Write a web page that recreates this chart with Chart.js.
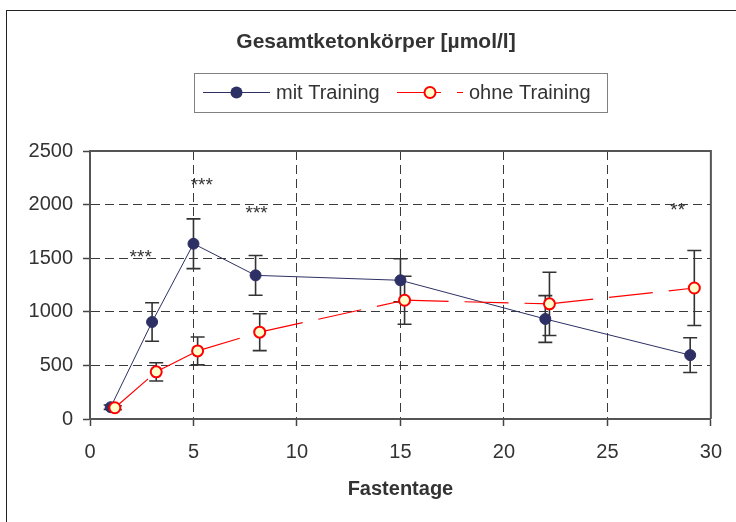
<!DOCTYPE html>
<html><head><meta charset="utf-8">
<script src="https://cdn.jsdelivr.net/npm/chart.js@4/dist/chart.umd.min.js"></script>
<style>html,body{margin:0;padding:0;background:#fff;}#wrap{width:736px;height:522px;position:relative}</style>
</head><body><div id="wrap"><canvas id="c" width="736" height="522"></canvas></div>
<script>
const chartTitle = 'Gesamtketonkörper [µmol/l]';
const xAxisTitle = 'Fastentage';
const seriesNames = ['mit Training', 'ohne Training'];
const daysMit = [1, 3, 5, 8, 15, 22, 29];
const daysOhne = [1.2, 3.2, 5.2, 8.2, 15.2, 22.2, 29.2];
const valuesMit = [110, 905, 1635, 1340, 1294, 933, 596];
const errMit = [20, 180, 232, 185, 201, 218, 162];
const valuesOhne = [105, 440, 635, 810, 1108, 1074, 1222];
const errOhne = [18, 85, 130, 172, 224, 295, 350];
const xTicks = [0, 5, 10, 15, 20, 25, 30];
const yTicks = [0, 500, 1000, 1500, 2000, 2500];
const starLabels = ['***', '***', '***', '**'];
const starX = [2.45, 5.4, 8.05, 28.4];
const starY = [1560, 2230, 1965, 1995];

const FONT = "'Liberation Sans', Arial, sans-serif";
const NAVY = '#2D3064';
const RED = '#FF0000';
const TEXT = '#333333';
const GRID = '#3a3a3a';

const errData = [errMit, errOhne];
const valData = [valuesMit, valuesOhne];
const dayData = [daysMit, daysOhne];

const decor = {
  id: 'decor',
  beforeDraw(chart) {
    const c = chart.ctx;
    c.save();
    c.fillStyle = '#fff';
    c.fillRect(0, 0, chart.width, chart.height);
    c.strokeStyle = '#222';
    c.lineWidth = 1;
    c.strokeRect(6.5, 10.5, 900, 700);
    c.restore();
  },
  beforeDatasetsDraw(chart) {
    const c = chart.ctx, xs = chart.scales.x, ys = chart.scales.y;
    c.save();
    c.strokeStyle = '#333';
    c.lineWidth = 1.6;
    for (let s = 0; s < 2; s++) {
      for (let j = 0; j < dayData[s].length; j++) {
        const x = xs.getPixelForValue(dayData[s][j]);
        const yt = ys.getPixelForValue(valData[s][j] + errData[s][j]);
        const yb = ys.getPixelForValue(valData[s][j] - errData[s][j]);
        c.beginPath();
        c.moveTo(x, yt); c.lineTo(x, yb);
        c.moveTo(x - 7, yt); c.lineTo(x + 7, yt);
        c.moveTo(x - 7, yb); c.lineTo(x + 7, yb);
        c.stroke();
      }
    }
    c.restore();
  },
  afterDatasetsDraw(chart) {
    const c = chart.ctx, xs = chart.scales.x, ys = chart.scales.y;
    c.save();
    c.fillStyle = TEXT;
    c.font = '19px ' + FONT;
    c.textAlign = 'center';
    c.textBaseline = 'alphabetic';
    for (let i = 0; i < starLabels.length; i++) {
      c.fillText(starLabels[i], xs.getPixelForValue(starX[i]), ys.getPixelForValue(starY[i]) + 0.57 * 19);
    }
    c.restore();
  },
  afterDraw(chart) {
    const c = chart.ctx, a = chart.chartArea;
    c.save();
    // plot frame top/right (solid)
    c.strokeStyle = '#555';
    c.lineWidth = 2;
    c.beginPath();
    c.moveTo(a.left, a.top); c.lineTo(a.right, a.top); c.lineTo(a.right, a.bottom);
    c.stroke();
    // title
    c.fillStyle = TEXT;
    c.textAlign = 'center';
    c.textBaseline = 'alphabetic';
    c.font = 'bold 21px ' + FONT;
    c.fillText(chartTitle, 376, 48);
    // x axis title
    c.font = 'bold 20px ' + FONT;
    c.fillText(xAxisTitle, (a.left + a.right) / 2, 495);
    // legend
    c.strokeStyle = '#808080';
    c.lineWidth = 1;
    c.strokeRect(194.5, 73.5, 413, 39);
    const ly = 92.5;
    c.strokeStyle = NAVY; c.lineWidth = 1;
    c.beginPath(); c.moveTo(203, ly); c.lineTo(270, ly); c.stroke();
    c.fillStyle = NAVY;
    c.beginPath(); c.arc(236.5, ly, 6, 0, Math.PI * 2); c.fill();
    c.strokeStyle = RED; c.lineWidth = 1.2;
    c.setLineDash([44, 16]);
    c.beginPath(); c.moveTo(397, ly); c.lineTo(463, ly); c.stroke();
    c.setLineDash([]);
    c.fillStyle = '#FFFFCC'; c.lineWidth = 2;
    c.beginPath(); c.arc(430, ly, 5.5, 0, Math.PI * 2); c.fill(); c.stroke();
    c.fillStyle = TEXT;
    c.textAlign = 'left';
    c.font = '20px ' + FONT;
    c.fillText(chart.data.datasets[0].label, 276, 99);
    c.fillText(chart.data.datasets[1].label, 469, 99);
    c.restore();
  }
};

new Chart(document.getElementById('c'), {
  type: 'scatter',
  data: {
    datasets: [
      {
        label: seriesNames[0],
        data: daysMit.map((d, i) => ({x: d, y: valuesMit[i]})),
        showLine: true,
        borderColor: NAVY,
        borderWidth: 1,
        backgroundColor: NAVY,
        pointBackgroundColor: NAVY,
        pointBorderColor: NAVY,
        pointBorderWidth: 1,
        pointRadius: 5.5,
        order: 1
      },
      {
        label: seriesNames[1],
        data: daysOhne.map((d, i) => ({x: d, y: valuesOhne[i]})),
        showLine: true,
        borderColor: RED,
        borderWidth: 1.2,
        borderDash: [44, 16],
        segment: {
          // restart the dash pattern on each segment (separate strokes)
          borderDashOffset: ctx => (ctx.p0DataIndex % 2) * 0.0001
        },
        backgroundColor: '#FFFFCC',
        pointBackgroundColor: '#FFFFCC',
        pointBorderColor: RED,
        pointBorderWidth: 2,
        pointRadius: 5.5,
        order: 0
      }
    ]
  },
  options: {
    responsive: false,
    animation: false,
    events: [],
    layout: {padding: {left: 0, right: 22, top: 151, bottom: 0}},
    plugins: {legend: {display: false}, tooltip: {enabled: false}, title: {display: false}},
    scales: {
      x: {
        type: 'linear', min: 0, max: 30,
        afterBuildTicks: s => { s.ticks = xTicks.map(v => ({value: v})); },
        afterFit: s => { s.height = 103; },
        grid: {color: GRID, lineWidth: 1, tickLength: 7, tickColor: '#444', tickWidth: 1.5, tickBorderDash: []},
        border: {display: true, color: '#555', width: 2, dash: [9, 5]},
        ticks: {font: {family: FONT, size: 20}, color: TEXT, padding: 14, maxRotation: 0, callback: v => String(v)}
      },
      y: {
        type: 'linear', min: 0, max: 2500,
        afterBuildTicks: s => { s.ticks = yTicks.map(v => ({value: v})); },
        afterFit: s => { s.width = 90; },
        grid: {color: GRID, lineWidth: 1, tickLength: 7, tickColor: '#444', tickWidth: 1.5, tickBorderDash: []},
        border: {display: true, color: '#555', width: 2, dash: [9, 5]},
        ticks: {font: {family: FONT, size: 20}, color: TEXT, padding: 10, callback: v => String(v)}
      }
    }
  },
  plugins: [decor]
});
</script></body></html>
